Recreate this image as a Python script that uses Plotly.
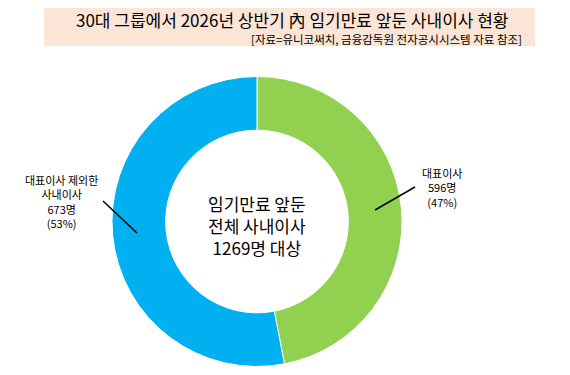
import plotly.graph_objects as go

categories = ["대표이사", "대표이사 제외한 사내이사"]
values = [596, 673]
colors = ["#92D050", "#00B0F0"]
label_texts = ["대표이사<br>596명<br>(47%)", "대표이사 제외한<br>사내이사<br>673명<br>(53%)"]
center_text = "임기만료 앞둔<br>전체 사내이사<br>1269명 대상"
title_text = "30대 그룹에서 2026년 상반기 內 임기만료 앞둔 사내이사 현황"
source_text = "[자료=유니코써치, 금융감독원 전자공시시스템 자료 참조]"

W, H = 570, 375
OFF = 8  # page body margin
FONT = "Noto Sans CJK KR"


def px(x):
    return (x - OFF) / W


def py(y):
    return 1 - (y - OFF) / H


CX, CY, R = 257, 221.5, 145

fig = go.Figure(go.Pie(
    labels=categories, values=values, hole=0.63, sort=False, direction="clockwise",
    rotation=0, textinfo="none", hoverinfo="label+value+percent",
    marker=dict(colors=colors, line=dict(color="white", width=1)),
    domain=dict(x=[px(CX - R), px(CX + R)], y=[py(CY + R), py(CY - R)]),
    showlegend=False,
))

shapes = [
    dict(type="rect", xref="paper", yref="paper", x0=px(44), x1=px(535), y0=py(46), y1=py(8),
         fillcolor="#FBE5D6", line=dict(width=0), layer="below"),
    dict(type="line", xref="paper", yref="paper", x0=px(103), y0=py(201), x1=px(137), y1=py(233),
         line=dict(color="black", width=1.5)),
    dict(type="line", xref="paper", yref="paper", x0=px(375), y0=py(210), x1=px(415), y1=py(187),
         line=dict(color="black", width=1.5)),
]

annotations = [
    dict(text=title_text, x=px(292), y=py(19.5), xref="paper", yref="paper", showarrow=False,
         font=dict(family=FONT, size=17, color="black"), xanchor="center", yanchor="middle", borderpad=0),
    dict(text=source_text, x=px(523), y=py(38.5), xref="paper", yref="paper", showarrow=False,
         font=dict(family=FONT, size=11.5, color="black"), xanchor="right", yanchor="middle", borderpad=0),
    dict(text=center_text, x=px(257), y=py(225), xref="paper", yref="paper", showarrow=False,
         font=dict(family=FONT, size=17, color="black"), xanchor="center", yanchor="middle"),
    dict(text=label_texts[0], x=px(442), y=py(187), xref="paper", yref="paper", showarrow=False,
         font=dict(family=FONT, size=11, color="black"), xanchor="center", yanchor="middle"),
    dict(text=label_texts[1], x=px(61), y=py(201), xref="paper", yref="paper", showarrow=False,
         font=dict(family=FONT, size=11, color="black"), xanchor="center", yanchor="middle"),
]

fig.update_layout(
    width=W, height=H, margin=dict(l=0, r=0, t=0, b=0),
    paper_bgcolor="white", plot_bgcolor="white",
    shapes=shapes, annotations=annotations,
)

fig.write_html("out.html")
